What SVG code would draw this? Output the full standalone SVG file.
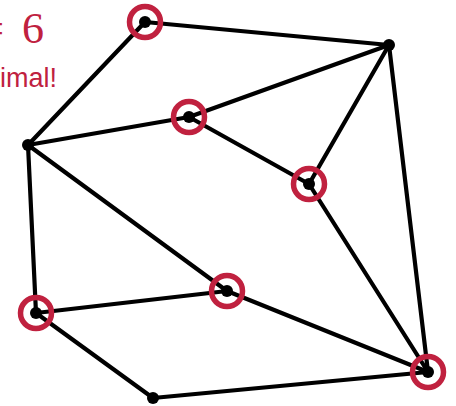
<svg xmlns="http://www.w3.org/2000/svg" width="456" height="406" viewBox="0 0 456 406">
<style>
.e{stroke:#000;stroke-width:4.2;stroke-linecap:round;fill:none}
.d{fill:#000}
.r{fill:none;stroke:#c0213f;stroke-width:5.5}
.t{fill:#c0213f}
</style>
<rect width="456" height="406" fill="#fff"/>
<text class="t" x="44" y="43" text-anchor="end" font-family="Liberation Serif, serif" font-size="44">k =<tspan dx="7"> 6</tspan></text>
<text class="t" x="57" y="87" text-anchor="end" font-family="Liberation Sans, Arial, sans-serif" font-size="27">Optimal!</text>
<g id="edges">
<line class="e" x1="145" y1="22" x2="28" y2="145"/>
<line class="e" x1="145" y1="22" x2="389" y2="45"/>
<line class="e" x1="28" y1="145" x2="189" y2="117"/>
<line class="e" x1="189" y1="117" x2="389" y2="45"/>
<line class="e" x1="189" y1="117" x2="309" y2="184"/>
<line class="e" x1="389" y1="45" x2="309" y2="184"/>
<line class="e" x1="389" y1="45" x2="428" y2="372"/>
<line class="e" x1="309" y1="184" x2="428" y2="372"/>
<line class="e" x1="28" y1="145" x2="227" y2="291"/>
<line class="e" x1="227" y1="291" x2="428" y2="372"/>
<line class="e" x1="28" y1="145" x2="36" y2="313"/>
<line class="e" x1="36" y1="313" x2="227" y2="291"/>
<line class="e" x1="36" y1="313" x2="153" y2="398"/>
<line class="e" x1="153" y1="398" x2="428" y2="372"/>
</g>
<g id="A"><circle class="d" cx="145" cy="22" r="6"/><circle class="r" cx="145" cy="22" r="15.5"/></g>
<g id="B"><circle class="d" cx="389" cy="45" r="6"/></g>
<g id="C"><circle class="d" cx="28" cy="145" r="6"/></g>
<g id="D"><circle class="d" cx="189" cy="117" r="6"/><circle class="r" cx="189" cy="117" r="15.5"/></g>
<g id="E"><circle class="d" cx="309" cy="184" r="6"/><circle class="r" cx="309" cy="184" r="15.5"/></g>
<g id="F"><circle class="d" cx="227" cy="291" r="6"/><circle class="r" cx="227" cy="291" r="15.5"/></g>
<g id="G"><circle class="d" cx="36" cy="313" r="6"/><circle class="r" cx="36" cy="313" r="15.5"/></g>
<g id="H"><circle class="d" cx="153" cy="398" r="6"/></g>
<g id="I"><circle class="d" cx="428" cy="372" r="6"/><circle class="r" cx="428" cy="372" r="15.5"/></g>
</svg>
